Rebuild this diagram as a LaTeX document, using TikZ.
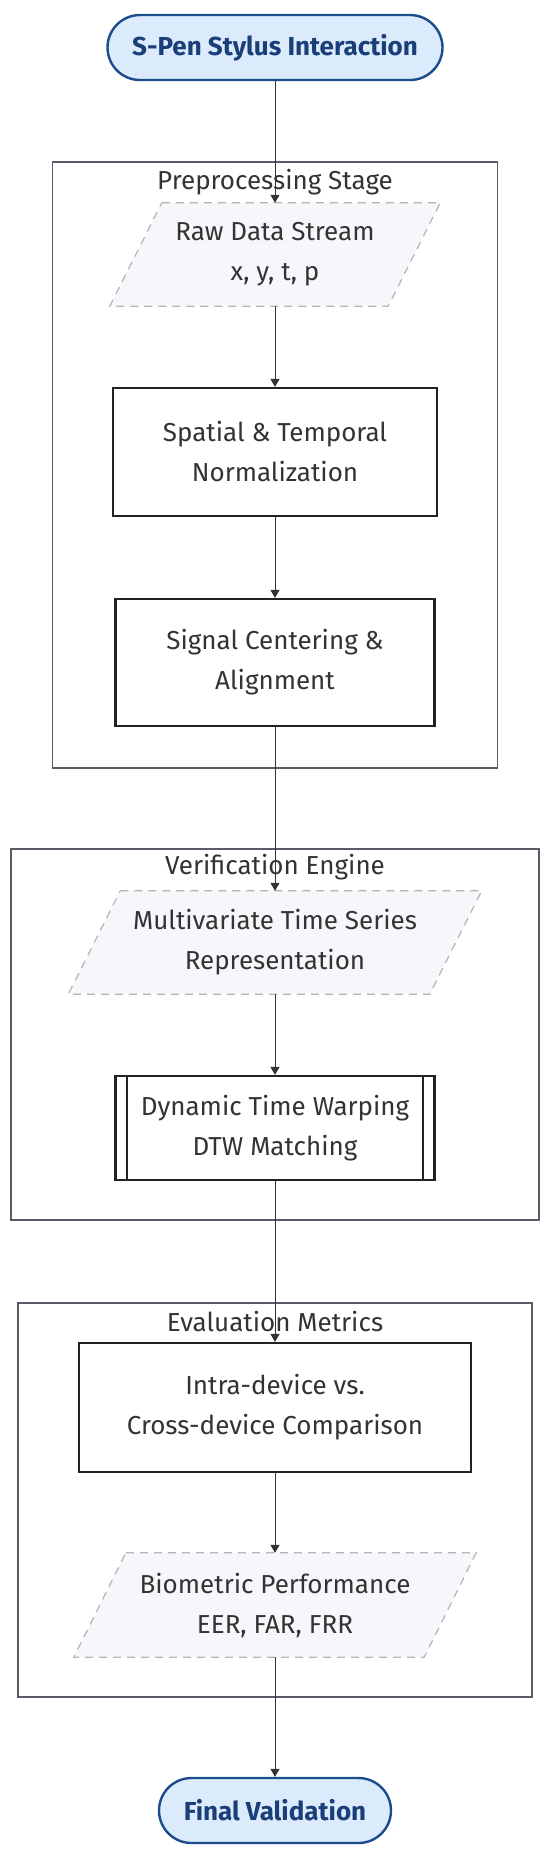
\documentclass[tikz,border=0pt]{standalone}
\usepackage{fontspec}
\setmainfont{Fira Sans}
\usetikzlibrary{shapes.misc, arrows.meta, backgrounds}
\definecolor{termfill}{HTML}{DCEBFC}
\definecolor{termline}{HTML}{1B4C8C}
\definecolor{termtext}{HTML}{1A3F78}
\definecolor{datafill}{HTML}{F5F7FA}
\definecolor{dataline}{HTML}{B4B4B4}
\definecolor{boxline}{HTML}{222222}
\definecolor{groupline}{HTML}{585C66}
\definecolor{flowline}{HTML}{333333}
\definecolor{labeltext}{HTML}{333333}

\begin{document}
\begin{tikzpicture}[x=1pt, y=-1pt, >={Triangle[length=8pt, width=9pt]},
  every node/.style={font=\fontsize{26}{40}\selectfont, text=labeltext, align=center, inner sep=0pt},
  terminal/.style={rounded rectangle, draw=termline, line width=2.4pt, fill=termfill, text=termtext, font=\fontsize{26}{40}\selectfont\bfseries, minimum height=65},
  dataio/.style={rectangle, minimum height=103},
  dataedge/.style={draw=dataline, dash pattern=on 8pt off 6pt, line width=1.2pt, fill=datafill},
  process/.style={rectangle, draw=boxline, line width=2.2pt, fill=white},
  group/.style={rectangle, draw=groupline, line width=1.6pt},
  flow/.style={->, draw=flowline, line width=1pt}]
\useasboundingbox (0,0) rectangle (550,1861);
\node[group, minimum width=445, minimum height=606] (prepgroup) at (275,465) {};
\node[group, minimum width=528, minimum height=371] (verifgroup) at (275,1034.5) {};
\node[group, minimum width=514, minimum height=394] (evalgroup) at (275,1500) {};
\node (preptitle) at (275,182) {Preprocessing Stage};
\node (veriftitle) at (275,867) {Verification Engine};
\node (evaltitle) at (275,1321) {Evaluation Metrics};
\node[terminal, minimum width=335] (start) at (275,47.5) {S-Pen Stylus Interaction};
\node[dataio, minimum width=278] (raw) at (275,254.5) {Raw Data Stream\\x, y, t, p};
\node[process, minimum width=324, minimum height=128] (norm) at (275,452) {Spatial \& Temporal\\Normalization};
\node[process, minimum width=319, minimum height=127] (centering) at (275,662.5) {Signal Centering \&\\Alignment};
\node[dataio, minimum width=361] (series) at (275,942.5) {Multivariate Time Series\\Representation};
\node[process, minimum width=319, minimum height=104] (dtw) at (275,1128) {Dynamic Time Warping\\DTW Matching};
\draw[boxline, line width=2pt] ([xshift=13]dtw.north west) -- ([xshift=13]dtw.south west);
\draw[boxline, line width=2pt] ([xshift=-13]dtw.north east) -- ([xshift=-13]dtw.south east);
\node[process, minimum width=392, minimum height=129] (compare) at (275,1407.5) {Intra-device vs.\\Cross-device Comparison};
\node[dataio, minimum width=350, minimum height=104] (perf) at (275,1605) {Biometric Performance\\EER, FAR, FRR};
\node[terminal, minimum width=232] (final) at (275,1810.5) {Final Validation};
\begin{scope}[on background layer]
\foreach \n in {raw, series, perf}
  \draw[dataedge] ([xshift=26]\n.north west) -- ([xshift=26]\n.north east) -- ([xshift=-26]\n.south east) -- ([xshift=-26]\n.south west) -- cycle;
\end{scope}
\foreach \a/\b in {start/raw, raw/norm, norm/centering, centering/series, series/dtw, dtw/compare, compare/perf, perf/final}
  \draw[flow] (\a.south) -- (\b.north);
\end{tikzpicture}
\end{document}
